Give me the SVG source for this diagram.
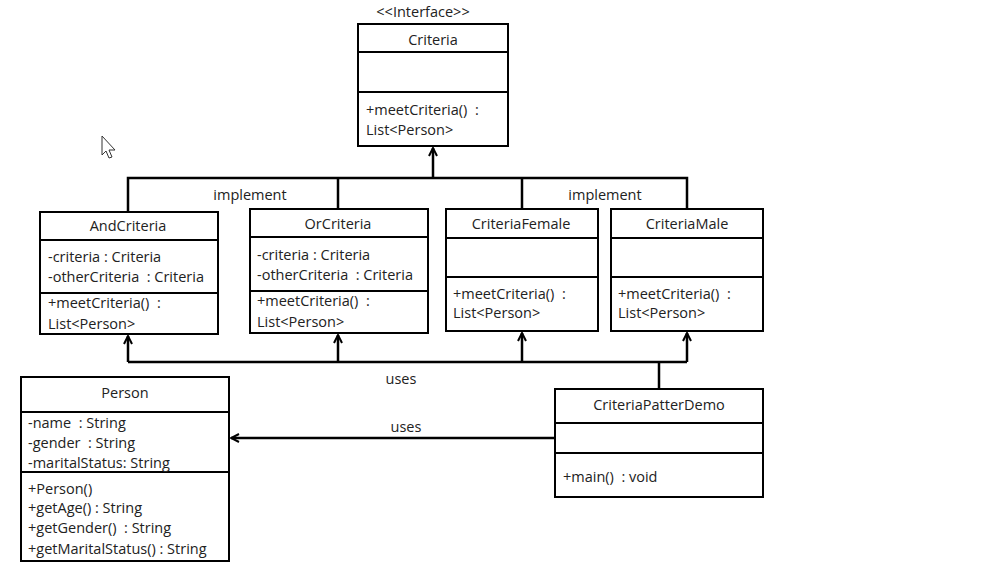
<svg xmlns="http://www.w3.org/2000/svg" width="1007" height="578" viewBox="0 0 1007 578">
<style>
.box{fill:#fff;stroke:#000;stroke-width:2}
.sep{stroke:#000;stroke-width:2}
.t{font-family:"Open Sans","Noto Sans",sans-serif;font-size:14.5px;fill:#222;white-space:pre}
.c{text-anchor:middle}
.ln{fill:none;stroke:#000;stroke-width:2.5}
</style>
<defs>
<marker id="arr" viewBox="0 0 10 10" refX="9" refY="5" markerWidth="10" markerHeight="10" markerUnits="userSpaceOnUse" orient="auto">
<path d="M1,1 L9,5 L1,9" fill="none" stroke="#000" stroke-width="2"/>
</marker>
</defs>
<rect width="1007" height="578" fill="#fff"/>
<path d="M102,136 L102,155 L106,151 L109,158 L112,157 L109,150 L115,150 Z" fill="#fff" stroke="#333" stroke-width="1"/>
<g id="connectors">
<path class="ln" d="M128,212 V178 H687 V209"/>
<path class="ln" d="M338,209 V178"/>
<path class="ln" d="M522,209 V178"/>
<path class="ln" d="M433,178 V148" marker-end="url(#arr)"/>
<path class="ln" d="M128,362 H687"/>
<path class="ln" d="M128,362 V336" marker-end="url(#arr)"/>
<path class="ln" d="M338,362 V335" marker-end="url(#arr)"/>
<path class="ln" d="M522,362 V333" marker-end="url(#arr)"/>
<path class="ln" d="M687,362 V333" marker-end="url(#arr)"/>
<path class="ln" d="M659,362 V389"/>
<path class="ln" d="M555,438 H231" stroke-width="2" marker-end="url(#arr)"/>
<text class="t c" x="250" y="200">implement</text>
<text class="t c" x="605" y="200">implement</text>
<text class="t c" x="401" y="384">uses</text>
<text class="t c" x="406" y="432">uses</text>
</g>
<g id="Criteria">
<text class="t c" x="423" y="17" font-size="13">&lt;&lt;Interface&gt;&gt;</text>
<rect class="box" x="358" y="24" width="150" height="122"/>
<line class="sep" x1="358" y1="52" x2="508" y2="52"/>
<line class="sep" x1="358" y1="92" x2="508" y2="92"/>
<text class="t c" x="433" y="45">Criteria</text>
<text class="t" x="366" y="115">+meetCriteria()  :</text>
<text class="t" x="366" y="135">List&lt;Person&gt;</text>
</g>
<g id="AndCriteria">
<rect class="box" x="40" y="212" width="178" height="122"/>
<line class="sep" x1="40" y1="240" x2="218" y2="240"/>
<line class="sep" x1="40" y1="293" x2="218" y2="293"/>
<text class="t c" x="128" y="231">AndCriteria</text>
<text class="t" x="48" y="262">-criteria : Criteria</text>
<text class="t" x="48" y="282">-otherCriteria  : Criteria</text>
<text class="t" x="48" y="308">+meetCriteria()  :</text>
<text class="t" x="48" y="329">List&lt;Person&gt;</text>
</g>
<g id="OrCriteria">
<rect class="box" x="250" y="209" width="178" height="124"/>
<line class="sep" x1="250" y1="237" x2="428" y2="237"/>
<line class="sep" x1="250" y1="291" x2="428" y2="291"/>
<text class="t c" x="338" y="229">OrCriteria</text>
<text class="t" x="257" y="260">-criteria : Criteria</text>
<text class="t" x="257" y="280">-otherCriteria  : Criteria</text>
<text class="t" x="257" y="306">+meetCriteria()  :</text>
<text class="t" x="257" y="327">List&lt;Person&gt;</text>
</g>
<g id="CriteriaFemale">
<rect class="box" x="446" y="209" width="152" height="122"/>
<line class="sep" x1="446" y1="238" x2="598" y2="238"/>
<line class="sep" x1="446" y1="277" x2="598" y2="277"/>
<text class="t c" x="521" y="229">CriteriaFemale</text>
<text class="t" x="453" y="299">+meetCriteria()  :</text>
<text class="t" x="453" y="318">List&lt;Person&gt;</text>
</g>
<g id="CriteriaMale">
<rect class="box" x="611" y="209" width="152" height="122"/>
<line class="sep" x1="611" y1="238" x2="763" y2="238"/>
<line class="sep" x1="611" y1="277" x2="763" y2="277"/>
<text class="t c" x="687" y="229">CriteriaMale</text>
<text class="t" x="618" y="299">+meetCriteria()  :</text>
<text class="t" x="618" y="318">List&lt;Person&gt;</text>
</g>
<g id="CriteriaPatterDemo">
<rect class="box" x="555" y="389" width="208" height="108"/>
<line class="sep" x1="555" y1="423" x2="763" y2="423"/>
<line class="sep" x1="555" y1="453" x2="763" y2="453"/>
<text class="t c" x="659" y="410">CriteriaPatterDemo</text>
<text class="t" x="563" y="482">+main()  : void</text>
</g>
<g id="Person">
<rect class="box" x="21" y="377" width="208" height="184"/>
<line class="sep" x1="21" y1="412" x2="229" y2="412"/>
<line class="sep" x1="21" y1="472" x2="229" y2="472"/>
<text class="t c" x="125" y="398">Person</text>
<text class="t" x="28" y="428">-name  : String</text>
<text class="t" x="28" y="448">-gender  : String</text>
<text class="t" x="28" y="468">-maritalStatus: String</text>
<text class="t" x="28" y="494">+Person()</text>
<text class="t" x="28" y="513">+getAge() : String</text>
<text class="t" x="28" y="533">+getGender()  : String</text>
<text class="t" x="28" y="554">+getMaritalStatus() : String</text>
</g>
</svg>
